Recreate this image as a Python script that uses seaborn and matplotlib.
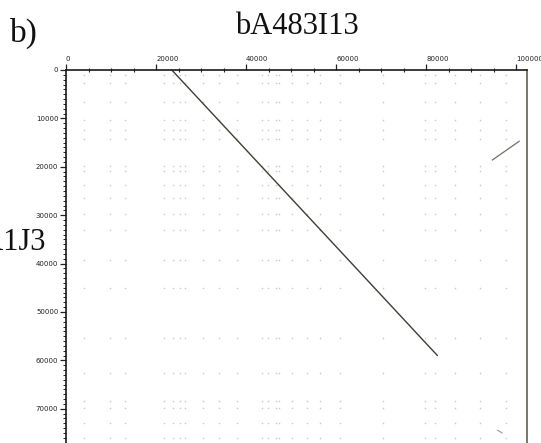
import numpy as np
import pandas as pd
import matplotlib
matplotlib.use("Agg")
import matplotlib.pyplot as plt
import seaborn as sns

# Sequence names
seq_x_name = "bA483I13"
seq_y_name = "bA1J3"
panel_tag = "b)"

# Axis ticks (bp)
x_major = [0, 20000, 40000, 60000, 80000, 100000]
y_major = [0, 10000, 20000, 30000, 40000, 50000, 60000, 70000]

# Main alignment (forward diagonal)
match_x = [23500, 82500]
match_y = [0, 59000]

# Inverted repeat segment
inv_x = [94700, 100700]
inv_y = [18600, 14700]

# Short faint forward hit
short_x = [95800, 96900]
short_y = [74400, 75000]

# Positions of interspersed repeats in each sequence (produce the dot grid)
repeat_x = [4000, 9800, 13100, 21800, 23800, 25300, 26400, 30400, 34000, 38000,
            43600, 44900, 46700, 47300, 50200, 53600, 56400, 60900, 70400,
            79800, 82000, 86400, 92000, 97800]
repeat_y = [1000, 2700, 6600, 10300, 12400, 14300, 19800, 20900, 23800, 26400,
            29800, 33100, 39300, 45000, 55400, 62600, 68400, 69800, 72900, 76000]

sns.set_style("white")
plt.rcParams["font.family"] = ["DejaVu Sans"]

W, H, DPI = 541, 443, 100
fig = plt.figure(figsize=(W / DPI, H / DPI), dpi=DPI)
fig.patch.set_facecolor("white")

ax_left, ax_right, ax_top = 66, 527, 70
ax = fig.add_axes([ax_left / W, 0, (ax_right - ax_left) / W, (H - ax_top) / H])

# repeat-vs-repeat hits
gx, gy = np.meshgrid(repeat_x, repeat_y)
grid = pd.DataFrame({"x": gx.ravel(), "y": gy.ravel()})
sns.scatterplot(data=grid, x="x", y="y", ax=ax, s=1.4, color="#8c8c8c",
                alpha=0.45, linewidth=0, legend=False)

main = pd.DataFrame({"x": match_x, "y": match_y})
sns.lineplot(data=main, x="x", y="y", ax=ax, sort=False, estimator=None,
             color="#3e3e33", linewidth=1.0)
inv = pd.DataFrame({"x": inv_x, "y": inv_y})
sns.lineplot(data=inv, x="x", y="y", ax=ax, sort=False, estimator=None,
             color="#707066", linewidth=0.9)
sh = pd.DataFrame({"x": short_x, "y": short_y})
sns.lineplot(data=sh, x="x", y="y", ax=ax, sort=False, estimator=None,
             color="#9a9a90", linewidth=0.8)

px_per_10k_y = 48.4
ax.set_xlim(0, 102400)
ax.set_ylim((H - ax_top) / px_per_10k_y * 10000, 0)

ax.set_xlabel("")
ax.set_ylabel("")

ax.xaxis.tick_top()
ax.set_xticks(x_major)
ax.set_xticklabels([str(v) for v in x_major], ha="left")
ax.set_xticks(np.arange(0, 102400, 5000), minor=True)
ax.set_yticks(y_major)
ax.set_yticklabels([str(v) for v in y_major])
ax.set_yticks(np.arange(0, 77000, 1000), minor=True)

ax.tick_params(axis="x", which="major", top=True, bottom=False, direction="out",
               length=4.5, width=0.9, labelsize=5, pad=1.5, colors="#222222")
ax.tick_params(axis="x", which="minor", top=True, bottom=False, direction="inout",
               length=3, width=0.8, colors="#222222")
ax.tick_params(axis="y", which="major", left=True, direction="out",
               length=4, width=0.9, labelsize=5, pad=1.5, colors="#222222")
ax.tick_params(axis="y", which="minor", left=True, direction="out",
               length=2.2, width=0.7, colors="#222222")

for side in ("top", "left"):
    ax.spines[side].set_color("#1a1a1a")
    ax.spines[side].set_linewidth(1.2)
ax.spines["right"].set_color("#4f5540")
ax.spines["right"].set_linewidth(1.1)
ax.spines["bottom"].set_visible(False)

serif = ["Liberation Serif", "DejaVu Serif"]
fig.text(297 / W, 1 - 26 / H, seq_x_name, ha="center", va="center",
         fontsize=22, family=serif, color="#111111")
fig.text(10 / W, 1 - 42 / H, panel_tag, ha="left", va="baseline",
         fontsize=24, family=serif, color="#111111")
fig.text(46 / W, 1 - 250 / H, seq_y_name, ha="right", va="baseline",
         fontsize=22, family=serif, color="#111111")

fig.savefig("out.png", dpi=DPI, facecolor="white")
